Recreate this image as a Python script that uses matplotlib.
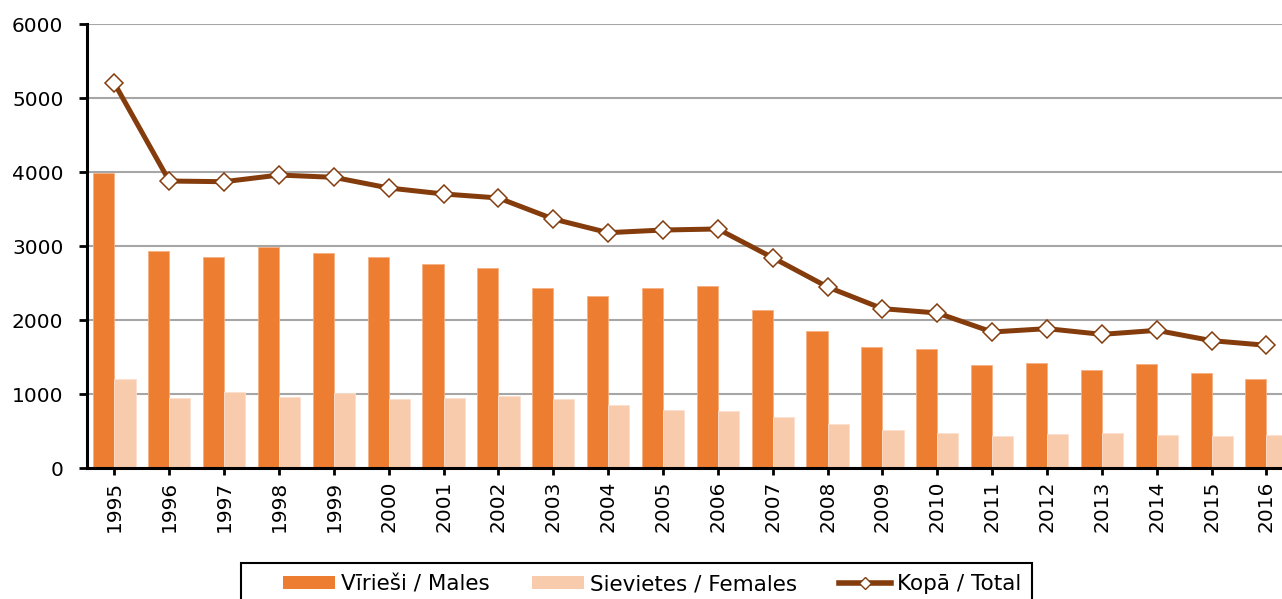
import matplotlib
matplotlib.use("Agg")
import matplotlib.pyplot as plt
from matplotlib.patches import Patch, Rectangle
from matplotlib.lines import Line2D
import numpy as np

years = [str(y) for y in range(1995, 2017)]
males = [3990, 2930, 2850, 2990, 2910, 2850, 2760, 2700, 2430, 2324, 2428, 2459,
         2140, 1851, 1635, 1613, 1396, 1419, 1320, 1410, 1288, 1207]
females = [1203, 941, 1027, 964, 1014, 930, 945, 970, 930, 847, 784, 766,
           694, 590, 513, 473, 435, 459, 473, 446, 432, 446]
total = [5198, 3878, 3869, 3959, 3928, 3784, 3703, 3649, 3365, 3180, 3216, 3230,
         2842, 2446, 2153, 2095, 1838, 1883, 1806, 1860, 1721, 1658]
labels = ["Vīrieši / Males", "Sievietes / Females", "Kopā / Total"]

C_M = "#ED7D31"
C_F = "#F8CBAD"
C_T = "#843C0C"

plt.rcParams['font.family'] = ['DejaVu Sans']
W, H = 1282, 599
fig = plt.figure(figsize=(W / 100, H / 100), dpi=100)
ax_l, ax_b, ax_t = 87, 468, 24
ax_w = 22 * 54.86
ax = fig.add_axes([ax_l / W, 1 - ax_b / H, ax_w / W, (ax_b - ax_t) / H])

x = np.arange(len(years))
bw = 0.385
ax.bar(x - bw / 2, males, width=bw, color=C_M, edgecolor="#F4B183", linewidth=0.6, zorder=2)
ax.bar(x + bw / 2, females, width=bw, color=C_F, edgecolor="#FBE0CF", linewidth=0.6, zorder=2)
ax.plot(x, total, color=C_T, lw=3.6, marker="D", markersize=9.5,
        markerfacecolor="white", markeredgecolor=C_T, markeredgewidth=1.1, zorder=3)

ax.set_xlim(-0.5, len(years) - 0.5)
ax.set_ylim(0, 6000)
ax.set_yticks(range(0, 6001, 1000))
ax.set_xticks(x)
ax.set_xticklabels(years, rotation=90)
ax.tick_params(axis='both', labelsize=14.5, width=2, color='black', direction='out')
ax.tick_params(axis='y', length=6, pad=11)
ax.tick_params(axis='x', length=5, pad=4)
ax.grid(axis='y', color='#A6A6A6', lw=1.5, zorder=0)
ax.set_axisbelow(True)
for s in ['top', 'right']:
    ax.spines[s].set_visible(False)
for s in ['left', 'bottom']:
    ax.spines[s].set_linewidth(2.2)

# legend frame
fig.add_artist(Rectangle((241 / W, 1 - 640 / H), (1032 - 241) / W, (640 - 563) / H,
                         transform=fig.transFigure, facecolor='white',
                         edgecolor='black', lw=1.5, zorder=5))

handles = [Patch(facecolor=C_M, edgecolor='none'),
           Patch(facecolor=C_F, edgecolor='none'),
           Line2D([0], [0], color=C_T, lw=4.0, marker="D", markersize=6.5,
                  markerfacecolor="white", markeredgecolor=C_T, markeredgewidth=1.0)]
leg = fig.legend(handles, labels, loc='center left',
                 bbox_to_anchor=(283 / W, 1 - 584 / H), ncol=3, fontsize=15.5,
                 frameon=False, handlelength=2.42, handleheight=0.55,
                 columnspacing=1.95, handletextpad=0.28, borderpad=0,
                 borderaxespad=0)
leg.set_zorder(6)

fig.savefig("out.png", dpi=100)
